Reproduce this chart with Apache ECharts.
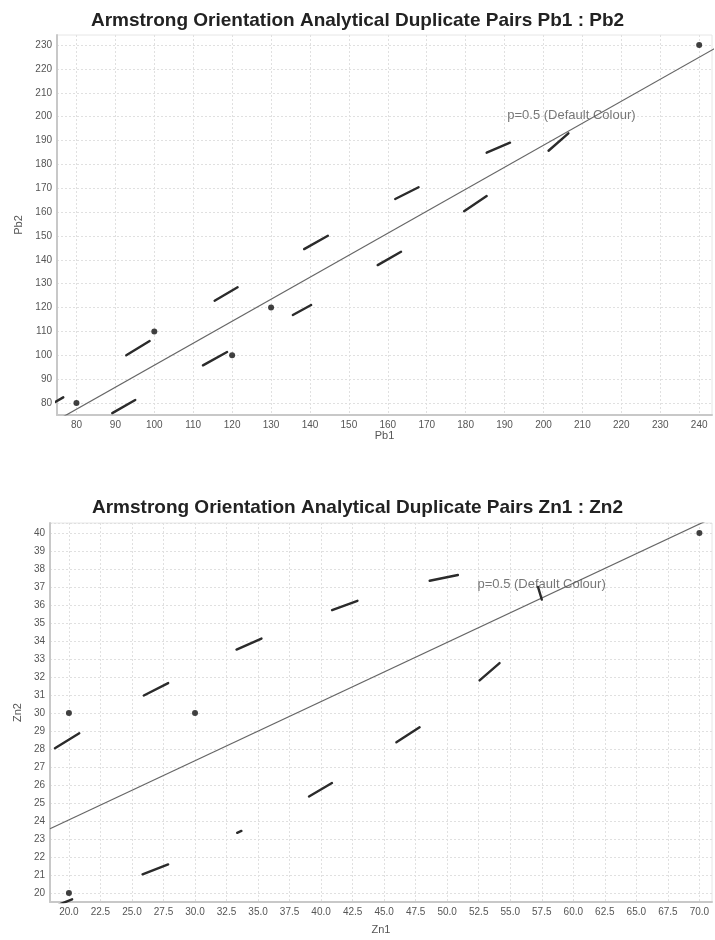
<!DOCTYPE html>
<html>
<head>
<meta charset="utf-8">
<script src="https://cdn.jsdelivr.net/npm/echarts@6/dist/echarts.min.js"></script>
<style>
html,body{margin:0;padding:0;background:#fff;}
#c{width:715px;height:940px;}
</style>
</head>
<body>
<div id="c"></div>
<script>
// ---- Pb chart data ----
const pbTitle = 'Armstrong Orientation Analytical Duplicate Pairs Pb1 : Pb2';
const pbDotX = [80, 100, 120, 130, 240];
const pbDotY = [80, 110, 100, 120, 230];
const pbSegX1 = [71, 89.2, 92.8, 112.5, 115.5, 135.6, 138.5, 157.4, 161.9, 179.6, 185.4, 201.3];
const pbSegY1 = [77.2, 75.8, 100.0, 95.8, 122.9, 116.9, 144.5, 137.8, 165.5, 160.4, 184.9, 185.7];
const pbSegX2 = [76.6, 95.1, 98.8, 118.7, 121.4, 140.3, 144.6, 163.4, 167.9, 185.4, 191.4, 206.4];
const pbSegY2 = [82.4, 81.3, 106.0, 101.4, 128.5, 121.1, 150.1, 143.4, 170.4, 166.7, 189.1, 193.0];
const pbFitX = [70, 245];
const pbFitY = [68.2, 229.5];
const pbNote = {x: 190.7, y: 200.6, text: 'p=0.5 (Default Colour)'};

// ---- Zn chart data ----
const znTitle = 'Armstrong Orientation Analytical Duplicate Pairs Zn1 : Zn2';
const znDotX = [20, 30, 20, 70];
const znDotY = [30, 30, 20, 40];
const znSegX1 = [18.89, 25.94, 39.04, 33.34, 25.84, 19.2, 33.29, 40.87, 48.61, 57.2, 52.57, 45.97];
const znSegY1 = [28.04, 30.97, 25.36, 23.34, 21.04, 19.35, 33.52, 35.71, 37.34, 37.0, 31.81, 28.37];
const znSegX2 = [20.82, 27.87, 40.86, 33.68, 27.87, 20.25, 35.27, 42.88, 50.85, 57.5, 54.15, 47.81];
const znSegY2 = [28.87, 31.66, 26.11, 23.45, 21.59, 19.65, 34.13, 36.23, 37.66, 36.3, 32.77, 29.2];
const znFitX = [18.5, 71];
const znFitY = [23.57, 40.82];
const znNote = {x: 52.4, y: 37.16, text: 'p=0.5 (Default Colour)'};

const FONT = 'Liberation Sans, Arial, sans-serif';
const GRIDC = '#e0e0e0';
const T = 'rgba(0,0,0,0)';

function near(v, step) { const r = v / step; return Math.abs(r - Math.round(r)) < 1e-6; }

function axisBase(name, gap, fmt, colors, min, max, interval) {
  return {
    type: 'value', min: min, max: max, interval: interval,
    name: name, nameLocation: 'middle', nameGap: gap,
    nameTextStyle: {fontFamily: FONT, fontSize: 11, color: '#555'},
    axisLine: {show: true, lineStyle: {color: '#c8c8c8', width: 2}},
    axisTick: {show: false},
    axisLabel: {fontFamily: FONT, fontSize: 10, color: '#555', margin: 5, formatter: fmt},
    splitLine: {show: true, showMinLine: true, showMaxLine: true,
      lineStyle: {color: colors, type: [2, 2], width: 1}}
  };
}

const series = [];
function addChart(idx, dx, dy, sx1, sy1, sx2, sy2, fx, fy, note) {
  series.push({
    type: 'line', xAxisIndex: idx, yAxisIndex: idx, silent: true,
    data: fx.map((x, i) => [x, fy[i]]), symbol: 'none', clip: true,
    lineStyle: {color: '#666', width: 1.2}, z: 2
  });
  for (let i = 0; i < sx1.length; i++) {
    series.push({
      type: 'line', xAxisIndex: idx, yAxisIndex: idx, silent: true, clip: true,
      data: [[sx1[i], sy1[i]], [sx2[i], sy2[i]]], symbol: 'none',
      lineStyle: {color: '#2b2b2b', width: 2.4, cap: 'round'}, z: 3
    });
  }
  series.push({
    type: 'scatter', xAxisIndex: idx, yAxisIndex: idx, silent: true,
    data: dx.map((x, i) => [x, dy[i]]), symbolSize: 6,
    itemStyle: {color: '#111'}, z: 4
  });
  series.push({
    type: 'scatter', xAxisIndex: idx, yAxisIndex: idx, silent: true,
    data: [[note.x, note.y]], symbolSize: 0,
    label: {show: true, position: 'right', distance: 0, formatter: note.text,
      fontFamily: FONT, fontSize: 13, color: '#555'}, z: 5
  });
}

addChart(0, pbDotX, pbDotY, pbSegX1, pbSegY1, pbSegX2, pbSegY2, pbFitX, pbFitY, pbNote);
addChart(1, znDotX, znDotY, znSegX1, znSegY1, znSegX2, znSegY2, znFitX, znFitY, znNote);

const option = {
  backgroundColor: '#fff',
  animation: false,
  title: [
    {text: pbTitle, left: 'center', top: 6,
      textStyle: {fontFamily: FONT, fontSize: 19, fontWeight: 'bold', color: '#222'}},
    {text: znTitle, left: 'center', top: 493,
      textStyle: {fontFamily: FONT, fontSize: 19, fontWeight: 'bold', color: '#222'}}
  ],
  grid: [
    {left: 57, top: 35, right: 2, height: 380, show: true, borderColor: '#e6e6e6', borderWidth: 1},
    {left: 50, top: 523, right: 2, height: 379, show: true, borderColor: '#e6e6e6', borderWidth: 1}
  ],
  xAxis: [
    Object.assign(axisBase('Pb1', 11, v => near(v, 10) ? String(Math.round(v)) : '', [T, GRIDC], 75, 243.3, 5), {gridIndex: 0}),
    Object.assign(axisBase('Zn1', 22, v => near(v, 2.5) ? v.toFixed(1) : '', [T, T, T, GRIDC, T], 18.5, 71, 0.5), {gridIndex: 1})
  ],
  yAxis: [
    Object.assign(axisBase('Pb2', 30, v => near(v, 10) ? String(Math.round(v)) : '', [T, GRIDC], 75, 234.2, 5), {gridIndex: 0}),
    Object.assign(axisBase('Zn2', 24, v => near(v, 1) ? String(Math.round(v)) : '', [T, GRIDC], 19.5, 40.55, 0.5), {gridIndex: 1})
  ],
  series: series
};

echarts.init(document.getElementById('c'), null, {renderer: 'canvas'}).setOption(option);
</script>
</body>
</html>
